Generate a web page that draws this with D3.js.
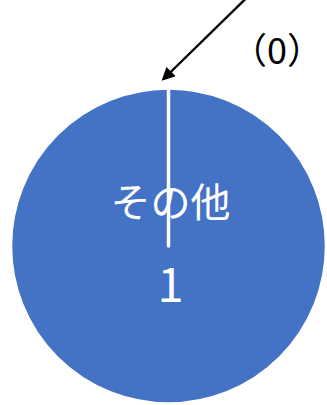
<!DOCTYPE html>
<html><head><meta charset="utf-8">
<script src="https://cdn.jsdelivr.net/npm/d3@7"></script>
<style>html,body{margin:0;padding:0;background:#fff;}svg{display:block;}</style>
</head><body>
<svg id="c" width="327" height="405"></svg>
<script>
const categories = ["その他", "該当なし"];
const values = [1, 0];
const valueLabels = ["1", "（0）"];

const W = 327, H = 405, cx = 168.5, cy = 246, R = 158;
const svg = d3.select("#c");
const g = svg.append("g").attr("transform", `translate(${cx},${cy})`);
const pie = d3.pie().sort(null).value(d => d.v);
const data = pie(categories.map((c, i) => ({c, v: values[i], l: valueLabels[i]})));
const arc = d3.arc().innerRadius(0).outerRadius(R);

g.selectAll("path.s").data(data).join("path")
  .attr("class", "s")
  .attr("d", arc)
  .attr("fill", "#4472C4")
  .attr("stroke", "#fff")
  .attr("stroke-width", 3.5)
  .attr("stroke-linejoin", "round")
  .attr("stroke-linecap", "round");

const font = "'Noto Sans CJK JP', 'Noto Sans', sans-serif";
const big = data.filter(d => d.data.v > 0);
const lab = g.selectAll("g.lab").data(big).join("g").attr("class", "lab")
  .attr("transform", "translate(2,0)");
lab.append("text").text(d => d.data.c)
  .attr("text-anchor", "middle").attr("y", -29)
  .attr("fill", "#fff").style("font-family", font).style("font-size", "40px");
lab.append("text").text(d => d.data.l)
  .attr("text-anchor", "middle").attr("y", 56)
  .attr("fill", "#fff").style("font-family", font).style("font-size", "47px");

const zero = data.filter(d => d.data.v === 0);
const defs = svg.append("defs");
defs.append("marker").attr("id", "ah").attr("viewBox", "0 0 10 10")
  .attr("refX", 8).attr("refY", 5).attr("markerWidth", 7.5).attr("markerHeight", 5.5)
  .attr("markerUnits", "strokeWidth").attr("orient", "auto")
  .append("path").attr("d", "M0,0L10,5L0,10Z").attr("fill", "#000");
zero.forEach(d => {
  const a = d.startAngle;
  const tip = [Math.sin(a) * (R + 9) - 5, -Math.cos(a) * (R + 9)];
  const start = [tip[0] + 86, tip[1] - 84];
  g.append("line").attr("x1", start[0]).attr("y1", start[1])
    .attr("x2", tip[0]).attr("y2", tip[1])
    .attr("stroke", "#000").attr("stroke-width", 2.4)
    .attr("marker-end", "url(#ah)");
  g.append("text").text(d.data.l).attr("x", tip[0] + 113.5).attr("y", tip[1] - 15)
    .attr("text-anchor", "middle").attr("fill", "#000")
    .style("font-family", font).style("font-size", "36px");
});
</script>
</body></html>
